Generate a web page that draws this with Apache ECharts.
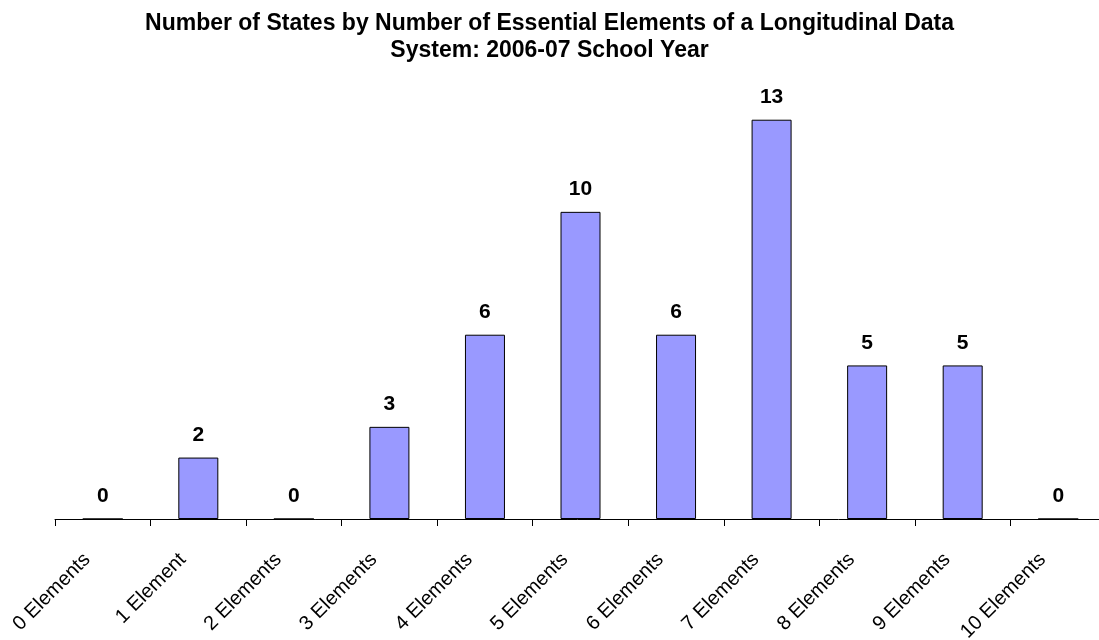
<!DOCTYPE html>
<html><head><meta charset="utf-8">
<script src="https://cdn.jsdelivr.net/npm/echarts@6/dist/echarts.min.js"></script>
<style>html,body{margin:0;padding:0;background:#fff}#c{width:1099px;height:640px}</style>
</head><body><div id="c"></div>
<script>
const categories = ["0 Elements","1 Element","2 Elements","3 Elements","4 Elements","5 Elements","6 Elements","7 Elements","8 Elements","9 Elements","10 Elements"];
const states = [0,2,0,3,6,10,6,13,5,5,0];
const titleText = "Number of States by Number of Essential Elements of a Longitudinal Data\nSystem: 2006-07 School Year";

const chart = echarts.init(document.getElementById('c'));
chart.setOption({
  animation: false,
  backgroundColor: '#fff',
  title: {
    text: titleText, left: 'center', top: 5,
    textStyle: {fontFamily: 'Liberation Sans, Arial', fontSize: 23, fontWeight: 'bold', color: '#000', lineHeight: 27}
  },
  grid: {left: 55, width: 1051, top: 89, bottom: 121, outerBoundsMode: 'none', containLabel: false},
  xAxis: {
    type: 'category', data: categories,
    axisLine: {lineStyle: {color: '#000', width: 1}},
    axisTick: {show: true, length: 7, lineStyle: {color: '#000'}},
    axisLabel: {rotate: 45, interval: 0, margin: 22, padding: [0, 22, 0, 0], fontFamily: 'Liberation Sans, Arial', fontSize: 20, color: '#000'}
  },
  yAxis: {type: 'value', min: 0, max: 14, show: false, splitLine: {show: false}},
  series: [{
    type: 'bar', data: states, barWidth: 40,
    itemStyle: {color: '#9999FF', borderColor: '#000', borderWidth: 1},
    label: {show: true, position: 'top', distance: 12, fontFamily: 'Liberation Sans, Arial', fontSize: 21, fontWeight: 'bold', color: '#000'}
  }]
});
</script></body></html>
